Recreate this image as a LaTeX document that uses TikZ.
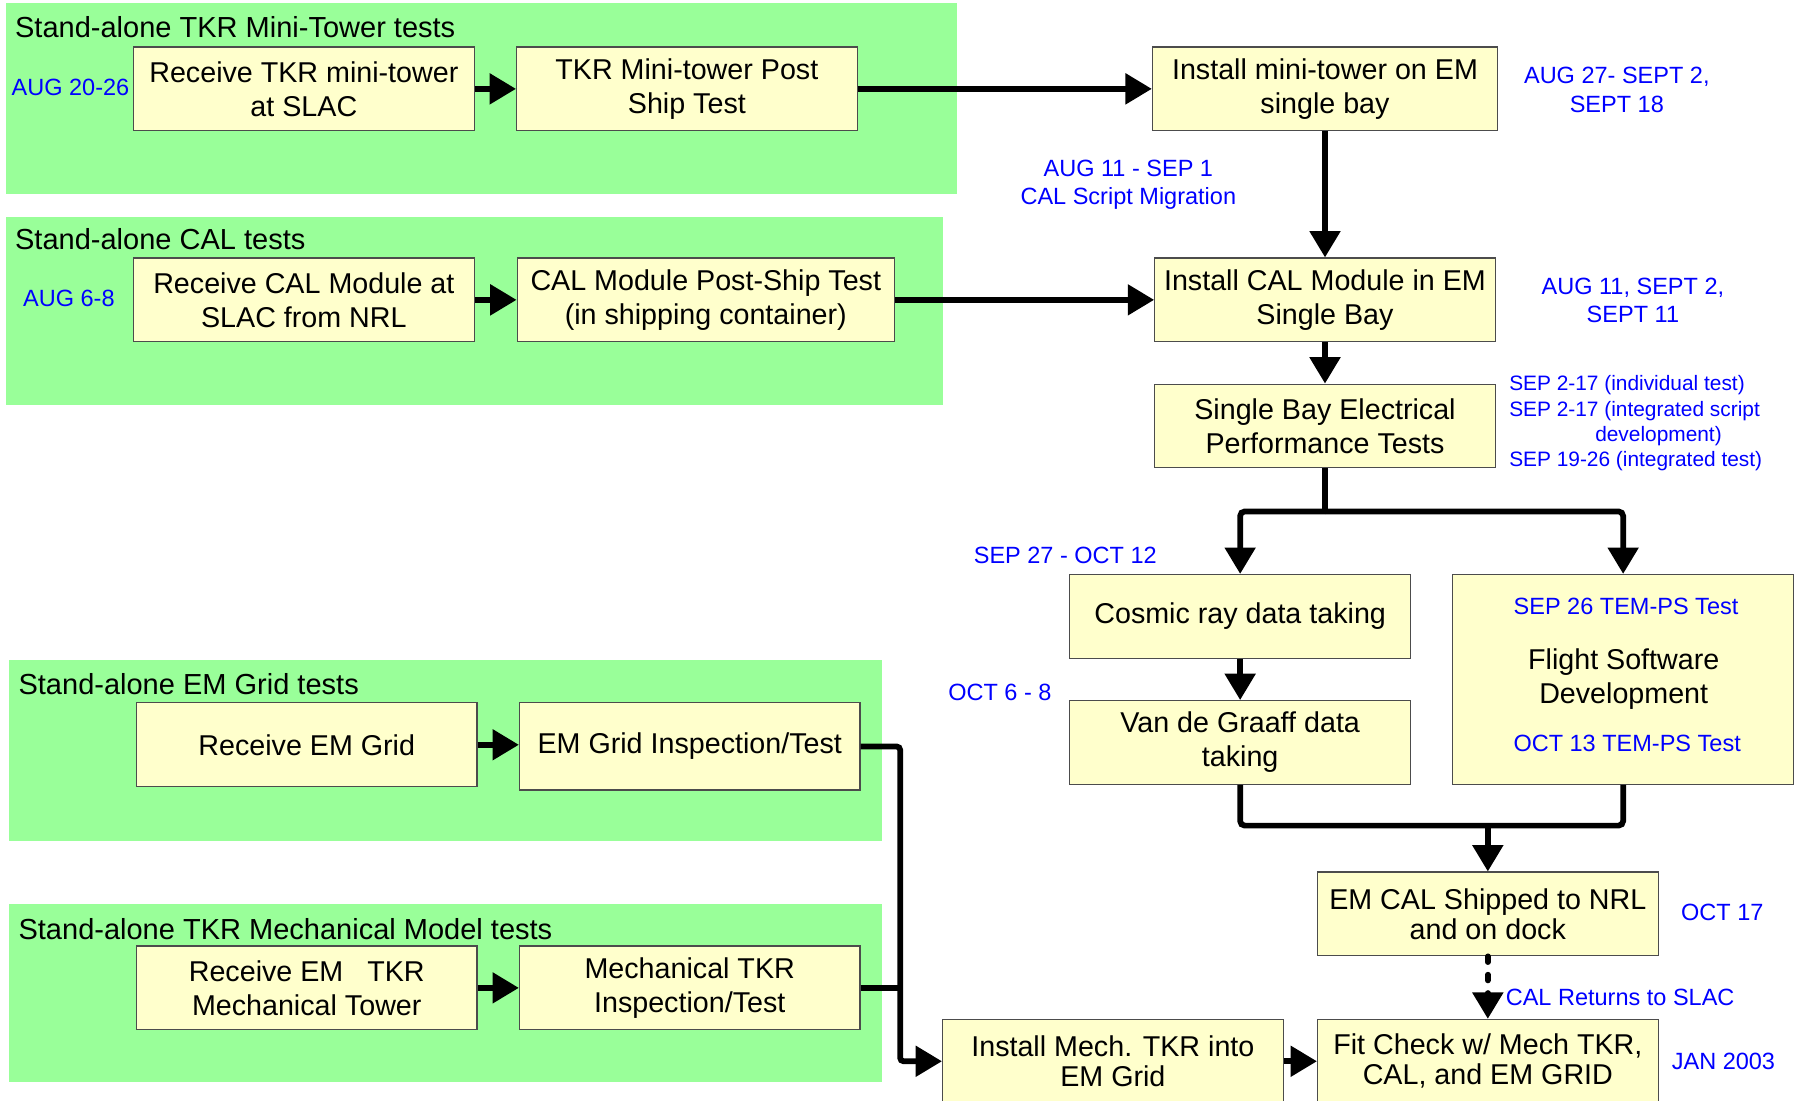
\documentclass[tikz,border=0pt]{standalone}
\usepackage{fontspec}
\setmainfont{Liberation Sans}
\usetikzlibrary{arrows.meta}
\definecolor{panelgreen}{HTML}{99FF99}
\definecolor{boxfill}{HTML}{FFFFCC}
\definecolor{datelbl}{HTML}{0000FF}
\begin{document}
\begin{tikzpicture}[x=1pt,y=-1pt,
 box/.style={draw=black!70, line width=1pt, fill=boxfill, align=center, inner sep=0pt,
   font=\fontsize{25}{29.5}\selectfont, minimum width=297pt, minimum height=73pt},
 tightbox/.style={box, font=\fontsize{25}{26}\selectfont},
 heading/.style={anchor=base west, inner sep=0pt, font=\fontsize{25.3}{29}\selectfont},
 datelabel/.style={text=datelbl, inner sep=0pt, align=center, font=\fontsize{20.5}{25}\selectfont},
 smalldate/.style={text=datelbl, inner sep=0pt, align=left, font=\fontsize{18.2}{22}\selectfont},
 plain/.style={inner sep=0pt, align=center, font=\fontsize{25}{30}\selectfont},
 link/.style={line width=5pt},
 arr/.style={link, -{Triangle[length=23pt,width=26pt]}},
]
\useasboundingbox (0,0) rectangle (1568,960);
% panels
\fill[panelgreen] (5,3) rectangle (835,169);
\fill[panelgreen] (5,189) rectangle (822,353);
\fill[panelgreen] (8,576) rectangle (769,733);
\fill[panelgreen] (8,788) rectangle (769,944);
% headings
\node[heading] (p1) at (13,33) {Stand-alone TKR Mini-Tower tests};
\node[heading] (p2) at (13,218) {Stand-alone CAL tests};
\node[heading] (p3) at (16,606) {Stand-alone EM Grid tests};
\node[heading] (p4) at (16,819) {Stand-alone TKR Mechanical Model tests};
% boxes
\node[box] (a1) at (265,77.5) {Receive TKR mini-tower\\at SLAC};
\node[box] (a2) at (599,77.5) {TKR Mini-tower Post\\Ship Test};
\node[box] (b1) at (265,261.5) {Receive CAL Module at\\SLAC from NRL};
\node[box, minimum width=329pt] (b2) at (615.5,261.5) {CAL Module Post-Ship Test\\(in shipping container)};
\node[box, minimum width=301pt] (c) at (1155.5,77.5) {Install mini-tower on EM\\single bay};
\node[box] (d) at (1155.5,261.5) {Install CAL Module in EM\\Single Bay};
\node[box] (e) at (1155.5,371.5) {Single Bay Electrical\\Performance Tests};
\node[box] (f) at (1081.5,537.5) {Cosmic ray data taking};
\node[box] (g) at (1081.5,647.5) {Van de Graaff data\\taking};
\node[box, minimum height=183pt] (h) at (1415.5,592.5) {};
\node[tightbox] (i) at (1297.5,797) {EM CAL Shipped to NRL\\and on dock};
\node[tightbox] (j) at (970.5,925.5) {Install Mech. TKR into\\EM Grid};
\node[tightbox] (k) at (1297.5,925.5) {Fit Check w/ Mech TKR,\\CAL, and EM GRID};
\node[box] (l1) at (267.5,649.5) {Receive EM Grid};
\node[box, minimum height=76pt] (l2) at (601.5,651) {EM Grid Inspection/Test};
\node[box] (m1) at (267.5,861.5) {Receive EM\ \ \ TKR\\Mechanical Tower};
\node[box] (m2) at (601.5,861.5) {Mechanical TKR\\Inspection/Test};
% texts inside H
\node[datelabel] (h1) at (1418,529) {SEP 26 TEM-PS Test};
\node[plain] (h2) at (1416,592) {Flight Software\\Development};
\node[datelabel] (h3) at (1419,648) {OCT 13 TEM-PS Test};
% date labels
\node[datelabel, anchor=west] (t1) at (10,76) {AUG 20-26};
\node[datelabel, anchor=west] (t2) at (20,260) {AUG 6-8};
\node[datelabel] (t3) at (1410,78.5) {AUG 27- SEPT 2,\\SEPT 18};
\node[datelabel] (t4) at (984,161) {AUG 11 - SEP 1\\CAL Script Migration};
\node[datelabel] (t5) at (1424,262) {AUG 11, SEPT 2,\\SEPT 11};
\node[smalldate, anchor=north west] (t6) at (1316,327.5) {SEP 2-17 (individual test)\\SEP 2-17 (integrated script\\\hspace*{75pt}development)\\SEP 19-26 (integrated test)};
\node[datelabel] (t7) at (929,484) {SEP 27 - OCT 12};
\node[datelabel] (t8) at (872,604) {OCT 6 - 8};
\node[datelabel] (t9) at (1502,796) {OCT 17};
\node[datelabel, anchor=west] (t10) at (1313,870) {CAL Returns to SLAC};
\node[datelabel] (t11) at (1503,926) {JAN 2003};
% connectors
\draw[arr] (a1) -- (a2);
\draw[arr] (a2) -- (c);
\draw[arr] (b1) -- (b2);
\draw[arr] (b2) -- (d);
\draw[arr] (c) -- (d);
\draw[arr] (d) -- (e);
\coordinate (split) at (1155.5,446);
\draw[link] (e.south) -- (split);
\draw[arr, rounded corners=4pt] (split) -| (f.north);
\draw[arr, rounded corners=4pt] (split) -| (h.north);
\draw[arr] (f) -- (g);
\coordinate (join) at (1297.5,720);
\draw[link, rounded corners=4pt] (g.south) |- (join) -| (h.south);
\draw[arr] (join) -- (i);
\draw[link, dash pattern=on 5pt off 11pt, line cap=round, -{Triangle[length=23pt,width=26pt]}] (i) -- (k);
\draw[arr] (l1.east) -- (l1.east -| l2.west);
\draw[arr] (m1) -- (m2);
\coordinate (bus) at (785,925.5);
\coordinate (mjoin) at (785,861.5);
\draw[arr, rounded corners=3pt] (l2.east) -| (bus) -- (j.west);
\draw[link] (m2.east) -- (mjoin);
\draw[arr] (j) -- (k);
\end{tikzpicture}
\end{document}
